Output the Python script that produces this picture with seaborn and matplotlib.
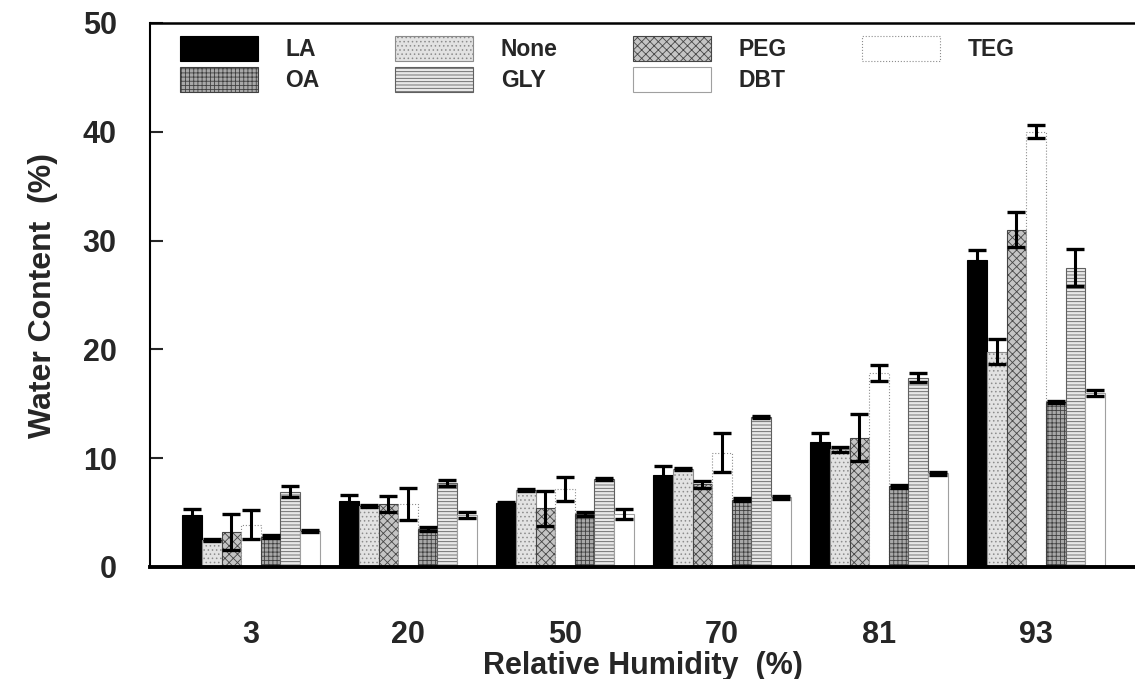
import numpy as np
import pandas as pd
import matplotlib
matplotlib.use('Agg')
import matplotlib.pyplot as plt
from matplotlib.patches import Patch
import seaborn as sns

# Relative humidity levels (x categories) and additives (hue)
humidity = ['3', '20', '50', '70', '81', '93']
additives = ['LA', 'None', 'PEG', 'TEG', 'OA', 'GLY', 'DBT']

# Water content (%) per additive
la_water = [4.8, 6.1, 5.9, 8.5, 11.5, 28.2]
none_water = [2.5, 5.6, 7.1, 9.0, 10.8, 19.8]
peg_water = [3.2, 5.8, 5.4, 7.6, 11.9, 31.0]
teg_water = [3.9, 5.8, 7.2, 10.5, 17.8, 40.0]
oa_water = [2.8, 3.5, 4.9, 6.2, 7.4, 15.2]
gly_water = [6.9, 7.7, 8.1, 13.8, 17.4, 27.5]
dbt_water = [3.3, 4.8, 4.9, 6.4, 8.6, 16.0]

# Error bar half-widths
la_err = [0.5, 0.5, 0.1, 0.75, 0.8, 0.95]
none_err = [0.1, 0.1, 0.1, 0.1, 0.2, 1.15]
peg_err = [1.65, 0.75, 1.6, 0.3, 2.2, 1.6]
teg_err = [1.3, 1.5, 1.1, 1.8, 0.75, 0.6]
oa_err = [0.15, 0.2, 0.2, 0.1, 0.1, 0.1]
gly_err = [0.5, 0.3, 0.1, 0.1, 0.4, 1.7]
dbt_err = [0.1, 0.3, 0.45, 0.15, 0.15, 0.3]

values = dict(zip(additives, [la_water, none_water, peg_water, teg_water,
                              oa_water, gly_water, dbt_water]))
errors = dict(zip(additives, [la_err, none_err, peg_err, teg_err,
                              oa_err, gly_err, dbt_err]))

# Grayscale fill patterns, one per additive
styles = {
    'LA':   dict(facecolor='black', edgecolor='black', hatch=None, linestyle='-'),
    'None': dict(facecolor='#e2e2e2', edgecolor='#8c8c8c', hatch='....', linestyle='-'),
    'PEG':  dict(facecolor='#c4c4c4', edgecolor='#454545', hatch='xxxx', linestyle='-'),
    'TEG':  dict(facecolor='white', edgecolor='#8c8c8c', hatch=None, linestyle=':'),
    'OA':   dict(facecolor='#a8a8a8', edgecolor='#404040', hatch='++++', linestyle='-'),
    'GLY':  dict(facecolor='#e8e8e8', edgecolor='#606060', hatch='-----', linestyle='-'),
    'DBT':  dict(facecolor='white', edgecolor='#a0a0a0', hatch=None, linestyle='-'),
}

df = pd.concat([
    pd.DataFrame({'humidity': humidity, 'water': values[a], 'additive': a})
    for a in additives
], ignore_index=True)

sns.set_style('ticks')
plt.rcParams['font.family'] = ['Liberation Sans', 'DejaVu Sans']
plt.rcParams['font.weight'] = 'bold'
plt.rcParams['axes.labelweight'] = 'bold'
plt.rcParams['hatch.linewidth'] = 0.6

fig = plt.figure(figsize=(11.35, 6.79), dpi=100)
ax = fig.add_axes([150 / 1135, 112 / 679, 985 / 1135, 544 / 679])

sns.barplot(data=df, x='humidity', y='water', hue='additive',
            order=humidity, hue_order=additives, width=0.875,
            errorbar=None, legend=False, ax=ax)

for container, name in zip(ax.containers, additives):
    st = styles[name]
    xs, ys = [], []
    for bar in container:
        bar.set_facecolor(st['facecolor'])
        bar.set_edgecolor(st['edgecolor'])
        bar.set_linestyle(st['linestyle'])
        bar.set_linewidth(0.8)
        if st['hatch']:
            bar.set_hatch(st['hatch'])
        xs.append(bar.get_x() + bar.get_width() / 2)
        ys.append(bar.get_height())
    ax.errorbar(xs, ys, yerr=errors[name], fmt='none', ecolor='black',
                elinewidth=2.2, capsize=6.5, capthick=2.4, zorder=5)

ax.set_xlim(-0.643, 5.63)
ax.set_ylim(0, 50)
ax.set_yticks([0, 10, 20, 30, 40, 50])

for side in ['left', 'top', 'bottom']:
    ax.spines[side].set_visible(True)
    ax.spines[side].set_color('black')
ax.spines['left'].set_linewidth(1.5)
ax.spines['top'].set_linewidth(1.8)
ax.spines['bottom'].set_linewidth(2.8)
ax.spines['right'].set_visible(False)

ax.tick_params(axis='y', direction='in', length=9, width=1.5, pad=24, labelsize=22)
ax.tick_params(axis='x', length=0, pad=38, labelsize=22)
for lab in ax.get_xticklabels() + ax.get_yticklabels():
    lab.set_fontweight('bold')

ax.set_xlabel('Relative Humidity  (%)', fontsize=22, fontweight='bold', labelpad=1)
ax.set_ylabel('Water Content  (%)', fontsize=23, fontweight='bold', labelpad=18)

# Legend: row 1 LA, None, PEG, TEG; row 2 OA, GLY, DBT
handles = {a: Patch(facecolor=styles[a]['facecolor'], edgecolor=styles[a]['edgecolor'],
                    hatch=styles[a]['hatch'], linestyle=styles[a]['linestyle'],
                    linewidth=0.8, label=a)
           for a in additives}
leg_order = ['LA', 'OA', 'None', 'GLY', 'PEG', 'DBT', 'TEG']
ax.legend([handles[a] for a in leg_order], leg_order, ncol=4, frameon=False,
          loc='upper left', bbox_to_anchor=(30 / 985, 1 - 13 / 544),
          borderpad=0, borderaxespad=0, handlelength=3.4, handleheight=1.3,
          handletextpad=1.2, columnspacing=3.3, labelspacing=0.25,
          prop={'weight': 'bold', 'size': 16.5})

fig.savefig('out.png', dpi=100)
